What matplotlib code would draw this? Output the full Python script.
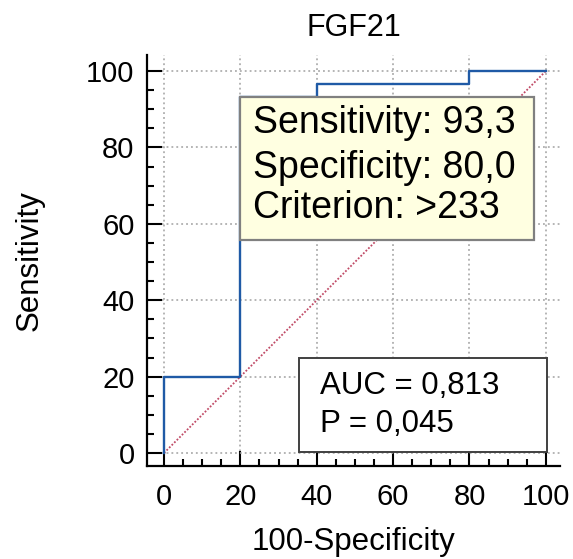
import matplotlib.pyplot as plt
from matplotlib.patches import Rectangle
from matplotlib.ticker import MultipleLocator

plt.rcParams['font.family'] = ['Liberation Sans', 'DejaVu Sans']

# ROC step curve for FGF21 (100-specificity vs sensitivity)
fpr = [0, 0, 20, 20, 40, 40, 80, 80, 100]
tpr = [0, 20, 20, 93.3, 93.3, 96.7, 96.7, 100, 100]
diag = [0, 100]

best_lines = ["Sensitivity: 93,3", "Specificity: 80,0", "Criterion: >233"]
stat_lines = ["AUC = 0,813", "P = 0,045"]
ticks = [0, 20, 40, 60, 80, 100]

fig = plt.figure(figsize=(5.73, 5.59), dpi=100)
ax = fig.add_axes([147 / 573, 93 / 559, 413 / 573, 411 / 559])
ax.set_xlim(-4.45, 103.7)
ax.set_ylim(-3.4, 104.2)

for s in ['top', 'right']:
    ax.spines[s].set_visible(False)
for s in ['left', 'bottom']:
    ax.spines[s].set_linewidth(1.6)

ax.set_xticks(ticks)
ax.set_yticks(ticks)
ax.xaxis.set_minor_locator(MultipleLocator(5))
ax.yaxis.set_minor_locator(MultipleLocator(5))
ax.tick_params(which='major', direction='in', length=11, width=1.5,
               labelsize=21, pad=9)
ax.tick_params(which='minor', direction='in', length=5, width=1.5)
ax.tick_params(axis='x', which='major', pad=12)
ax.grid(True, which='major', color='#a0a0a0', linestyle=(0, (1.2, 2)), lw=1.1)
ax.set_axisbelow(True)

ax.plot(diag, diag, color='#c04a66', lw=1.3, linestyle=(0, (1, 1)), zorder=2)
ax.plot(fpr, tpr, color='#1f5aa6', lw=1.7, zorder=3)

ax.set_title("FGF21", fontsize=22, pad=14)
ax.set_xlabel("100-Specificity", fontsize=22.5, labelpad=12)
ax.set_ylabel("Sensitivity", fontsize=22.5, labelpad=30)

# criterion box
ax.add_patch(Rectangle((20, 55.8), 76.9, 37.4, facecolor='#ffffe1',
                       edgecolor='#808080', lw=1.6, zorder=5))
for y, txt in zip([83.7, 71.9, 61.6], best_lines):
    ax.text(23.3, y, txt, fontsize=27, va='baseline', ha='left', zorder=6)

# AUC box
ax.add_patch(Rectangle((35.3, 0.3), 65.1, 24.6, facecolor='white',
                       edgecolor='#404040', lw=1.4, zorder=5))
for y, txt in zip([15.4, 5.5], stat_lines):
    ax.text(40.8, y, txt, fontsize=22.5, va='baseline', ha='left', zorder=6)

fig.savefig('out.png', dpi=100)
